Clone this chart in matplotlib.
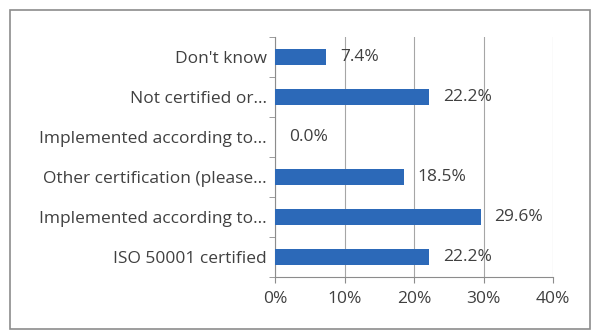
import matplotlib.pyplot as plt
from matplotlib.patches import Rectangle

categories = ['ISO 50001 certified', 'Implemented according to...',
              'Other certification (please...', 'Implemented according to...',
              'Not certified or...', "Don't know"]
values = [22.2, 29.6, 18.5, 0.0, 22.2, 7.4]
xticks = [0, 10, 20, 30, 40]

plt.rcParams['font.family'] = ['Open Sans', 'DejaVu Sans']
fs = 12.5

fig = plt.figure(figsize=(5.95, 3.33), dpi=100)
# outer frame
fig.patches.append(Rectangle((10/595, 4/333), 580/595, 319/333, transform=fig.transFigure,
                             fill=False, edgecolor='#8c8c8c', linewidth=1.2))
ax = fig.add_axes([275/595, 1 - 277/333, 278/595, 240/333])

y = range(len(categories))
ax.barh(y, values, height=0.4, color='#2c69b8', edgecolor='none', zorder=3)
for i, v in enumerate(values):
    ax.text(v + 2.0, i, '%.1f%%' % v, va='center', ha='left', fontsize=fs, color='#404040')

ax.set_xlim(0, 40)
ax.set_ylim(-0.5, len(categories) - 0.5)
ax.set_xticks(xticks)
ax.set_xticklabels(['%d%%' % t for t in xticks], fontsize=fs, color='#404040')
ax.set_yticks(list(y))
ax.set_yticklabels(categories, fontsize=fs, color='#404040')
ax.set_yticks([i - 0.5 for i in range(len(categories) + 1)], minor=True)
ax.tick_params(axis='y', which='major', length=0, pad=6)
ax.tick_params(axis='y', which='minor', length=4, color='#8c8c8c', direction='out')
ax.tick_params(axis='x', length=4, color='#8c8c8c', direction='out', pad=6)
ax.grid(axis='x', color='#a6a6a6', linewidth=0.8, zorder=0)
for s in ['top', 'right']:
    ax.spines[s].set_visible(False)
for s in ['left', 'bottom']:
    ax.spines[s].set_color('#8c8c8c')

fig.savefig('out.png', dpi=100)
